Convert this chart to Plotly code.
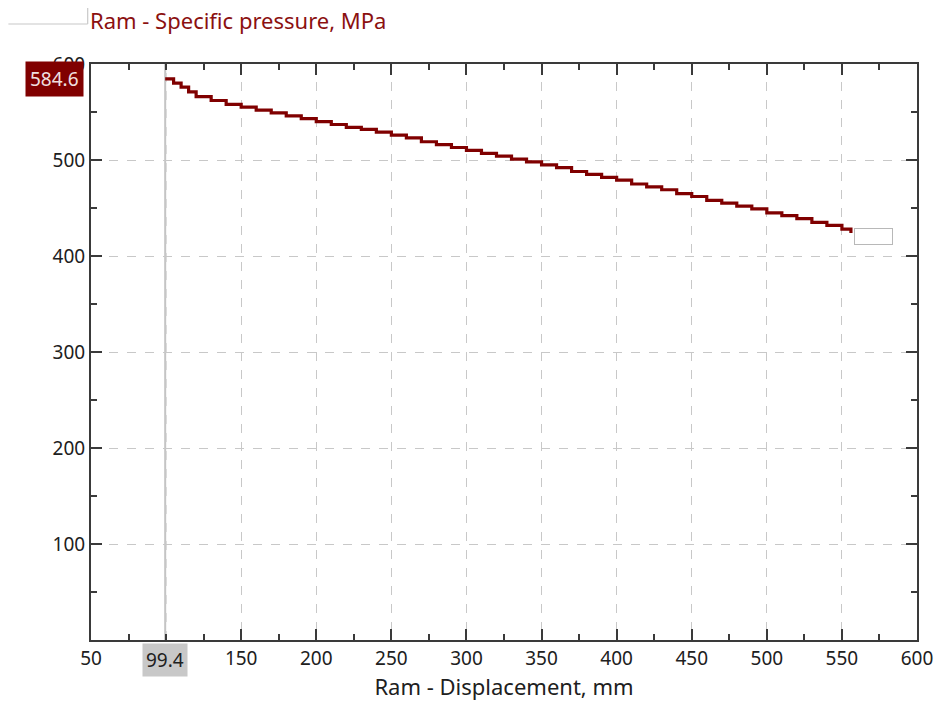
import plotly.graph_objects as go

# Data
displacement_mm = [99.4, 105, 110, 115, 120, 130, 140, 150, 160, 170, 180, 190, 200,
                   210, 220, 230, 240, 250, 260, 270, 280, 290, 300, 310, 320, 330,
                   340, 350, 360, 370, 380, 390, 400, 410, 420, 430, 440, 450, 460,
                   470, 480, 490, 500, 510, 520, 530, 540, 550, 556]
pressure_mpa = [584.6, 580, 576, 571, 566, 562, 558, 555, 552, 549, 546, 543, 540,
                537, 534, 532, 529, 526, 523, 519, 516, 513, 510, 507, 504, 501,
                498, 495, 492, 488, 485, 482, 479, 475, 472, 469, 465, 462, 458,
                455, 452, 449, 445, 442, 439, 435, 432, 428, 424]

x_ticks = [50, 150, 200, 250, 300, 350, 400, 450, 500, 550, 600]
x_minor = [75, 100, 125, 175, 225, 275, 325, 375, 425, 475, 525, 575]
y_ticks = [100, 200, 300, 400, 500, 600]
y_minor = [50, 150, 250, 350, 450, 550]

cursor_x = displacement_mm[0]
cursor_y = pressure_mpa[0]

FONT = "Noto Sans"
DARKRED = "#800000"
AXIS = "#3a3a3a"
TXT = "#202020"

fig = go.Figure()

# gridline at 100 (its tick label is hidden under the cursor box)
fig.add_trace(go.Scatter(x=[100, 100], y=[0, 600], mode="lines",
                         line=dict(color="#c8c8c8", width=1, dash="dash"),
                         hoverinfo="skip", showlegend=False))

fig.add_trace(go.Scatter(
    x=displacement_mm, y=pressure_mpa, mode="lines",
    line=dict(color=DARKRED, width=3.2, shape="hv"),
    hoverinfo="skip", showlegend=False,
))

# cursor vertical line
fig.add_shape(type="line", xref="x", yref="paper", x0=cursor_x, x1=cursor_x,
              y0=0, y1=1, line=dict(color="#c4c4c4", width=2), layer="below")

# legend-like artifact at top-left
fig.add_shape(type="line", xref="paper", yref="paper", x0=-0.1, x1=-0.004,
              y0=1.0 + 40 / 576, y1=1.0 + 40 / 576, line=dict(color="#c8c8c8", width=1.2))
fig.add_shape(type="line", xref="paper", yref="paper", x0=-0.004, x1=-0.004,
              y0=1.0 + 40 / 576, y1=1.0 + 57 / 576, line=dict(color="#c8c8c8", width=1.2))

fig.add_annotation(x=0, xref="paper", xshift=-3, y=1.0 + 44 / 576, yref="paper",
                   text="Ram - Specific pressure, MPa", showarrow=False,
                   xanchor="left", yanchor="middle",
                   font=dict(family=FONT, size=22, color="#8b1010"))

# y cursor value label
fig.add_annotation(x=0, xref="paper", xshift=-7, y=cursor_y, yref="y",
                   text="%.1f" % cursor_y, showarrow=False, xanchor="right",
                   yanchor="middle", bgcolor=DARKRED, borderpad=4,
                   font=dict(family=FONT, size=19, color="#f0e0e0"))
# x cursor value label
fig.add_annotation(x=cursor_x, xref="x", y=0, yref="paper", yshift=-3,
                   text="%.1f" % cursor_x, showarrow=False, xanchor="center",
                   yanchor="top", bgcolor="#c8c8c8", borderpad=3,
                   font=dict(family=FONT, size=19, color=TXT))
# empty value box at end of line
fig.add_annotation(x=displacement_mm[-1], xref="x", y=pressure_mpa[-1], yref="y",
                   text="&nbsp;" * 13, showarrow=False, xanchor="left", yanchor="top",
                   xshift=3, yshift=5, bgcolor="white", bordercolor="#b8b8b8",
                   borderwidth=1, borderpad=0, font=dict(family=FONT, size=11))

fig.update_layout(
    width=951, height=704,
    margin=dict(l=83, r=42, t=56, b=72, autoexpand=False),
    paper_bgcolor="white", plot_bgcolor="white",
    font=dict(family=FONT, size=19, color=TXT),
    xaxis=dict(range=[50, 600], tickvals=x_ticks, ticktext=[str(v) for v in x_ticks],
               ticks="inside", ticklen=11, tickwidth=2, tickcolor=AXIS,
               showline=True, linecolor=AXIS, linewidth=2, mirror="ticks",
               showgrid=True, gridcolor="#c8c8c8", griddash="dash", gridwidth=1,
               zeroline=False, automargin=False,
               minor=dict(tickvals=x_minor, ticks="inside", ticklen=6, tickwidth=2,
                          tickcolor=AXIS, showgrid=False),
               title=dict(text="Ram - Displacement, mm", standoff=10,
                          font=dict(family=FONT, size=22, color=TXT)),
               tickfont=dict(family=FONT, size=19, color=TXT)),
    yaxis=dict(range=[0, 600], tickvals=y_ticks,
               ticks="inside", ticklen=11, tickwidth=2, tickcolor=AXIS,
               showline=True, linecolor=AXIS, linewidth=2, mirror="ticks",
               showgrid=True, gridcolor="#c8c8c8", griddash="dash", gridwidth=1,
               zeroline=False, automargin=False,
               minor=dict(tickvals=y_minor, ticks="inside", ticklen=6, tickwidth=2,
                          tickcolor=AXIS, showgrid=False),
               tickfont=dict(family=FONT, size=19, color=TXT)),
)

fig.write_html("out.html")
